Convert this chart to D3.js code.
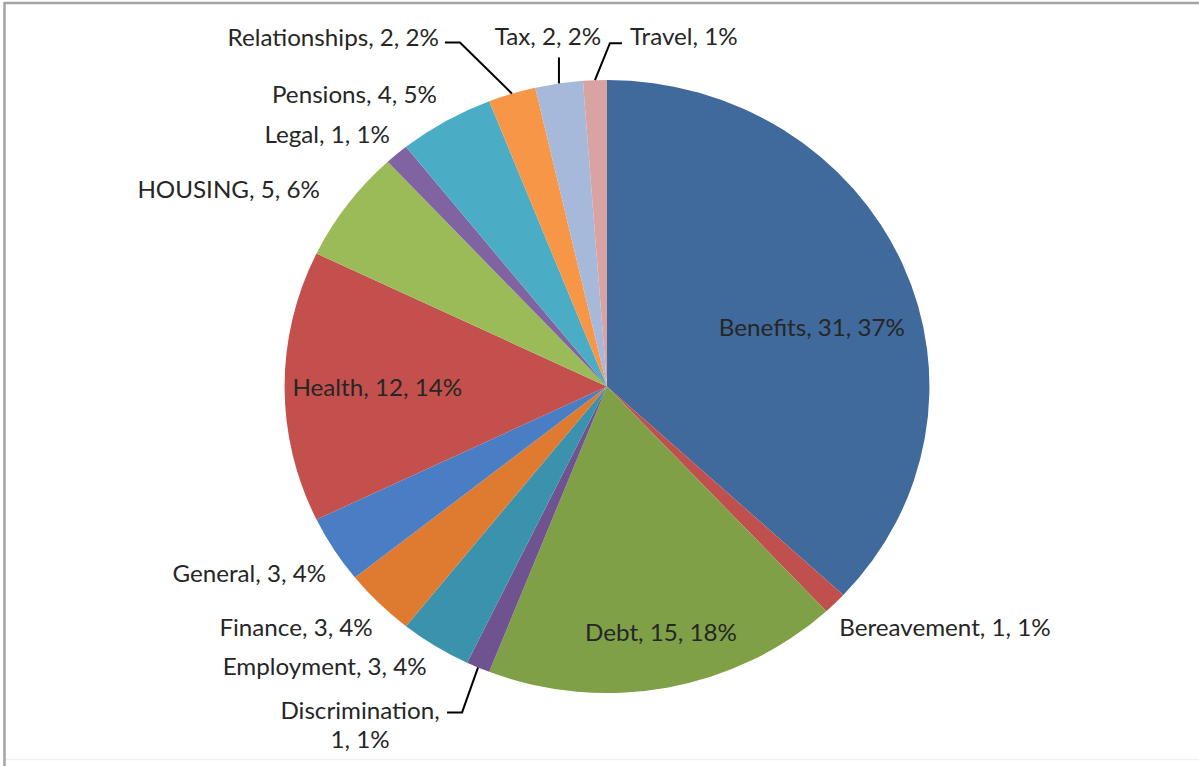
<!DOCTYPE html>
<html>
<head>
<meta charset="utf-8">
<script src="https://cdn.jsdelivr.net/npm/d3@7"></script>
<style>
  html, body { margin: 0; padding: 0; background: #fff; }
  svg { display: block; }
  .lbl { font-family: Lato, "Open Sans", sans-serif; font-size: 23px; fill: #262626; }
</style>
</head>
<body>
<div class="container"></div>
<script>
// data
const categories = ["Benefits", "Bereavement", "Debt", "Discrimination", "Employment", "Finance",
    "General", "Health", "HOUSING", "Legal", "Pensions", "Relationships", "Tax", "Travel"];
const counts = [31, 1, 15, 1, 3, 3, 3, 12, 5, 1, 4, 2, 2, 1];
const colors = ["#40699C", "#C0504D", "#80A047", "#6F5290", "#3A92AC", "#DE7B30",
    "#4A7EC4", "#C3504D", "#9BBB59", "#8064A2", "#4BACC6", "#F79646", "#A7B9DA", "#D9A3A3"];
// Travel's label has no count in the original
const noValue = ["Travel"];

const W = 1199, H = 766;
const cx = 607, cy = 386.5, r = 306.5, sx = 1.052; // pie is slightly stretched horizontally

// label placement: "in" / "out" / "leader", offsets in px
const labelLayout = {
    "Benefits":       {mode: "in", f: 0.7, dx: -2, dy: 27, anchor: "middle"},
    "Bereavement":    {mode: "out", f: 1.08, dx: -14, dy: 7, anchor: "start"},
    "Debt":           {mode: "in", f: 0.7, dx: 12, dy: 36, anchor: "middle"},
    "Discrimination": {mode: "leader", dx: -118, dy: 44, anchor: "middle", wrap: true,
                       path: [[102, 1], [87, 1]]},
    "Employment":     {mode: "out", f: 1.08, dx: 5, dy: 0, anchor: "end"},
    "Finance":        {mode: "out", f: 1.08, dx: 12, dy: 7, anchor: "end"},
    "General":        {mode: "out", f: 1.08, dx: 14, dy: 11, anchor: "end"},
    "Health":         {mode: "in", f: 0.7, dx: -4, dy: 1, anchor: "middle"},
    "HOUSING":        {mode: "out", f: 1.08, dx: -7, dy: 0, anchor: "end"},
    "Legal":          {mode: "out", f: 1.08, dx: 10, dy: -1, anchor: "end"},
    "Pensions":       {mode: "out", f: 1.08, dx: 4, dy: -5, anchor: "end"},
    "Relationships":  {mode: "leader", dx: -73, dy: -56, anchor: "end",
                       path: [[21, 5], [6, 5]]},
    "Tax":            {mode: "leader", dx: -11, dy: -46, anchor: "middle",
                       path: [[11, 20]]},
    "Travel":         {mode: "leader", dx: 35, dy: -43, anchor: "start",
                       path: [[-20, 6], [-8, 6]]}
};

const total = d3.sum(counts);
const data = categories.map((c, i) => ({name: c, count: counts[i], color: colors[i]}));

const svg = d3.select("div.container").append("svg")
    .attr("width", W)
    .attr("height", H);

// frame
svg.append("line").attr("x1", 4).attr("x2", W).attr("y1", 3).attr("y2", 3)
    .attr("stroke", "#a3a3a3").attr("stroke-width", 2.5);
svg.append("line").attr("x1", 4.5).attr("x2", 4.5).attr("y1", 2).attr("y2", H)
    .attr("stroke", "#a3a3a3").attr("stroke-width", 2.5);
svg.append("line").attr("x1", 6).attr("x2", W).attr("y1", 759.5).attr("y2", 759.5)
    .attr("stroke", "#f0f0f0").attr("stroke-width", 1.5);

const pie = d3.pie().sort(null).value(d => d.count);
const arcs = pie(data);
const arc = d3.arc().innerRadius(0).outerRadius(r);

// slices
svg.append("g")
    .attr("transform", `translate(${cx},${cy}) scale(${sx},1)`)
    .selectAll("path")
    .data(arcs)
    .enter()
    .append("path")
    .attr("d", arc)
    .attr("fill", d => d.data.color);

// point on (stretched) pie at slice mid-angle
function polar(d, f) {
    const a = (d.startAngle + d.endAngle) / 2;
    return [cx + sx * r * f * Math.sin(a), cy - r * f * Math.cos(a)];
}

function labelText(d) {
    const pct = Math.round(d.data.count / total * 100) + "%";
    if (noValue.includes(d.data.name)) return d.data.name + ", " + pct;
    return d.data.name + ", " + d.data.count + ", " + pct;
}

const labels = svg.append("g");
const leaders = svg.append("g");

arcs.forEach(d => {
    const L = labelLayout[d.data.name];
    const base = polar(d, L.mode === "leader" ? 1 : L.f);
    const x = base[0] + L.dx, y = base[1] + L.dy;

    const t = labels.append("text")
        .attr("class", "lbl")
        .attr("text-anchor", L.anchor)
        .attr("transform", `translate(${x},${y}) scale(${sx},1)`);

    if (L.wrap) {
        const pct = Math.round(d.data.count / total * 100) + "%";
        t.append("tspan").attr("x", 0).attr("dy", "0.35em").text(d.data.name + ",");
        t.append("tspan").attr("x", 0).attr("dy", "1.22em").text(d.data.count + ", " + pct);
    } else {
        t.attr("dy", "0.35em").text(labelText(d));
    }

    if (L.mode === "leader") {
        const pts = [base].concat(L.path.map(p => [x + p[0], y + p[1]]));
        leaders.append("path")
            .attr("d", d3.line()(pts))
            .attr("fill", "none")
            .attr("stroke", "#000")
            .attr("stroke-width", 2);
    }
});
</script>
</body>
</html>
